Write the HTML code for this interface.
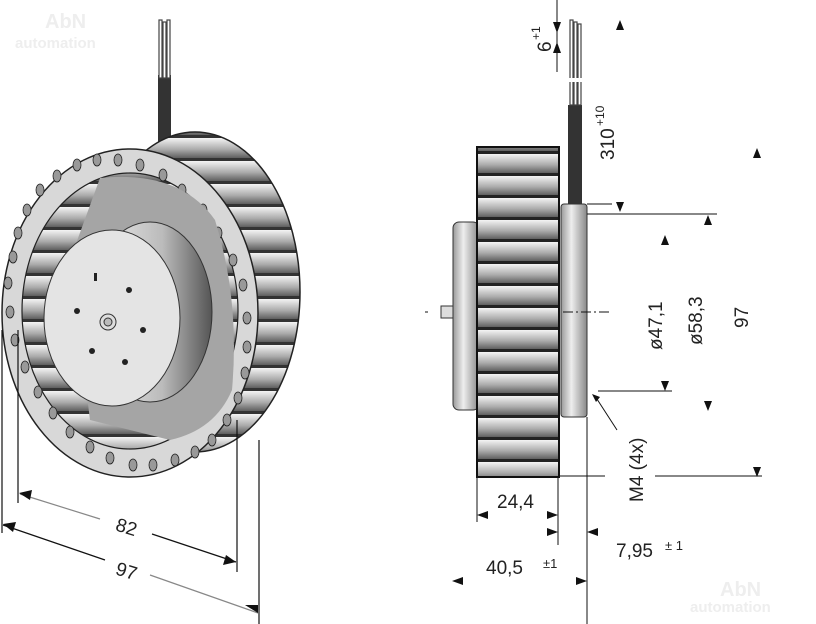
<!DOCTYPE html>
<html><head><meta charset="utf-8"><style>
html,body{margin:0;padding:0;background:#fff;}
svg{display:block;}
text{font-family:"Liberation Sans",sans-serif;fill:#222;}
</style></head><body>
<svg width="816" height="624" viewBox="0 0 816 624" xmlns="http://www.w3.org/2000/svg">
<defs>
<linearGradient id="blade" x1="0" y1="0" x2="0" y2="1">
<stop offset="0" stop-color="#f4f4f4"/><stop offset="0.5" stop-color="#aaa"/><stop offset="1" stop-color="#444"/>
</linearGradient>
<linearGradient id="hub" x1="0" y1="0" x2="1" y2="0">
<stop offset="0" stop-color="#f0f0f0"/><stop offset="0.6" stop-color="#bbb"/><stop offset="1" stop-color="#555"/>
</linearGradient>
<linearGradient id="vert" x1="0" y1="0" x2="1" y2="0">
<stop offset="0" stop-color="#999"/><stop offset="0.4" stop-color="#eee"/><stop offset="1" stop-color="#888"/>
</linearGradient>
<pattern id="blades" width="20" height="23" patternUnits="userSpaceOnUse">
<rect width="20" height="23" fill="url(#blade)"/><rect y="20" width="20" height="3" fill="#333"/>
</pattern>
<pattern id="rblades" width="81" height="22" patternUnits="userSpaceOnUse">
<rect width="81" height="22" fill="url(#blade)"/><rect y="19" width="81" height="3" fill="#222"/>
</pattern>
</defs>

<text x="45" y="28" font-size="20" font-weight="bold" style="fill:#eee">AbN</text>
<text x="15" y="48" font-size="15" font-weight="bold" style="fill:#eee">automation</text>
<text x="720" y="596" font-size="20" font-weight="bold" style="fill:#eee">AbN</text>
<text x="690" y="612" font-size="15" font-weight="bold" style="fill:#eee">automation</text>

<!-- LEFT FAN -->
<rect x="158" y="75" width="13" height="70" fill="#333"/>
<g stroke="#444" stroke-width="1.2" fill="#fff">
<rect x="159" y="20" width="3" height="58"/><rect x="163" y="22" width="3" height="56"/><rect x="167" y="20" width="3" height="58"/>
</g>
<ellipse cx="195" cy="292" rx="105" ry="160" fill="url(#blades)" stroke="#222" stroke-width="1.5"/>
<ellipse cx="130" cy="313" rx="128" ry="164" fill="#d8d8d8" stroke="#222" stroke-width="1.5"/>
<ellipse cx="130" cy="311" rx="108" ry="138" fill="url(#blades)" stroke="#222" stroke-width="1.2"/>
<g fill="#999" stroke="#222" stroke-width="0.8">
<ellipse cx="27" cy="210" rx="4" ry="6"/><ellipse cx="40" cy="190" rx="4" ry="6"/><ellipse cx="57" cy="176" rx="4" ry="6"/><ellipse cx="77" cy="165" rx="4" ry="6"/><ellipse cx="97" cy="160" rx="4" ry="6"/><ellipse cx="118" cy="160" rx="4" ry="6"/><ellipse cx="140" cy="165" rx="4" ry="6"/><ellipse cx="163" cy="175" rx="4" ry="6"/><ellipse cx="182" cy="190" rx="4" ry="6"/><ellipse cx="203" cy="210" rx="4" ry="6"/><ellipse cx="218" cy="233" rx="4" ry="6"/><ellipse cx="233" cy="260" rx="4" ry="6"/><ellipse cx="243" cy="285" rx="4" ry="6"/><ellipse cx="247" cy="318" rx="4" ry="6"/><ellipse cx="247" cy="347" rx="4" ry="6"/><ellipse cx="245" cy="373" rx="4" ry="6"/><ellipse cx="238" cy="398" rx="4" ry="6"/><ellipse cx="227" cy="420" rx="4" ry="6"/><ellipse cx="212" cy="440" rx="4" ry="6"/><ellipse cx="195" cy="452" rx="4" ry="6"/><ellipse cx="175" cy="460" rx="4" ry="6"/><ellipse cx="153" cy="465" rx="4" ry="6"/><ellipse cx="133" cy="465" rx="4" ry="6"/><ellipse cx="110" cy="458" rx="4" ry="6"/><ellipse cx="90" cy="447" rx="4" ry="6"/><ellipse cx="70" cy="432" rx="4" ry="6"/><ellipse cx="53" cy="413" rx="4" ry="6"/><ellipse cx="38" cy="392" rx="4" ry="6"/><ellipse cx="25" cy="367" rx="4" ry="6"/><ellipse cx="15" cy="340" rx="4" ry="6"/><ellipse cx="10" cy="312" rx="4" ry="6"/><ellipse cx="8" cy="283" rx="4" ry="6"/><ellipse cx="13" cy="257" rx="4" ry="6"/><ellipse cx="18" cy="233" rx="4" ry="6"/>
</g>
<!-- cone -->
<path d="M100 178 Q180 170 215 220 Q240 300 232 390 Q215 430 170 440 L90 420 L70 260 Z" fill="#a5a5a5"/>
<ellipse cx="150" cy="312" rx="62" ry="90" fill="url(#hub)" stroke="#333"/>
<ellipse cx="112" cy="318" rx="68" ry="88" fill="#e4e4e4" stroke="#333"/>
<circle cx="108" cy="322" r="8" fill="#ddd" stroke="#333"/><circle cx="108" cy="322" r="4" fill="#bbb" stroke="#333"/>
<g fill="#222"><circle cx="129" cy="290" r="3"/><circle cx="77" cy="311" r="3"/><circle cx="143" cy="330" r="3"/><circle cx="92" cy="351" r="3"/><circle cx="125" cy="362" r="3"/><rect x="94" y="273" width="3" height="8"/></g>

<!-- left dims -->
<g stroke="#111" stroke-width="1.2" fill="none">
<line x1="18" y1="330" x2="18" y2="503"/><line x1="2" y1="330" x2="2" y2="533"/>
<line x1="237" y1="420" x2="237" y2="572"/><line x1="259" y1="440" x2="259" y2="624"/>
<line x1="20" y1="494" x2="100" y2="519" stroke="#888"/><line x1="152" y1="534" x2="236" y2="562"/>
<line x1="3" y1="525" x2="105" y2="560"/><line x1="150" y1="575" x2="258" y2="613" stroke="#888"/>
</g>
<g fill="#111">
<polygon points="19,493 32,490 30,500"/><polygon points="236,562 223,565 226,555"/>
<polygon points="3,524 16,522 13,532"/><polygon points="258,613 245,605 258,605"/>
</g>
<text x="116" y="534" font-size="19" transform="rotate(17 128 527)">82</text>
<text x="116" y="578" font-size="19" transform="rotate(17 128 571)">97</text>

<!-- RIGHT VIEW -->
<rect x="568" y="105" width="14" height="102" fill="#333"/>
<g stroke="#444" stroke-width="1.2" fill="#fff">
<rect x="570" y="20" width="3" height="85"/><rect x="574" y="22" width="3" height="83"/><rect x="578" y="24" width="3" height="81"/>
</g>
<rect x="566" y="78" width="18" height="4" fill="#fff"/>
<rect x="453" y="222" width="26" height="188" rx="6" fill="url(#vert)" stroke="#333"/>
<rect x="441" y="306" width="12" height="12" fill="#ddd" stroke="#333"/>
<rect x="477" y="147" width="82" height="330" fill="url(#rblades)" stroke="#111" stroke-width="2"/>
<rect x="561" y="204" width="26" height="213" rx="3" fill="url(#vert)" stroke="#333"/>

<g stroke="#111" stroke-width="1" fill="none">
<line x1="557" y1="0" x2="557" y2="72"/>
<line x1="587" y1="204" x2="612" y2="204"/><line x1="587" y1="214" x2="717" y2="214"/>
<line x1="563" y1="312" x2="612" y2="312" stroke-dasharray="10,3,2,3"/>
<line x1="425" y1="312" x2="428" y2="312"/>
<line x1="598" y1="391" x2="672" y2="391"/>
<line x1="559" y1="476" x2="605" y2="476"/><line x1="655" y1="476" x2="762" y2="476"/>
<line x1="477" y1="476" x2="477" y2="522"/><line x1="558" y1="476" x2="558" y2="545"/><line x1="587" y1="417" x2="587" y2="624"/>
<line x1="595" y1="396" x2="617" y2="430"/>
</g>
<g fill="#111">
<polygon points="553,22 561,22 557,33"/><polygon points="553,53 561,53 557,42"/>
<polygon points="616,30 624,30 620,20"/>
<polygon points="753,158 761,158 757,148"/>
<polygon points="616,202 624,202 620,212"/>
<polygon points="704,225 712,225 708,215"/>
<polygon points="661,245 669,245 665,235"/>
<polygon points="661,381 669,381 665,391"/>
<polygon points="704,401 712,401 708,411"/>
<polygon points="753,467 761,467 757,477"/>
<polygon points="477,515 488,511 488,519"/><polygon points="558,515 547,511 547,519"/>
<polygon points="558,532 547,528 547,536"/><polygon points="587,532 598,528 598,536"/>
<polygon points="452,581 463,577 463,585"/><polygon points="587,581 576,577 576,585"/>
<polygon points="592,394 600,397 596,402"/>
</g>

<text font-size="19" transform="translate(551 52) rotate(-90)">6</text>
<text font-size="12" transform="translate(540 40) rotate(-90)">+1</text>
<text font-size="19" transform="translate(614 160) rotate(-90)">310</text>
<text font-size="12" transform="translate(604 126) rotate(-90)">+10</text>
<text font-size="19" transform="translate(662 350) rotate(-90)">ø47,1</text>
<text font-size="19" transform="translate(702 345) rotate(-90)">ø58,3</text>
<text font-size="19" transform="translate(748 328) rotate(-90)">97</text>
<text font-size="19" transform="translate(643 502) rotate(-90)">M4 (4x)</text>
<text x="497" y="508" font-size="19">24,4</text>
<text x="616" y="557" font-size="19">7,95</text>
<text x="665" y="550" font-size="13">± 1</text>
<text x="486" y="574" font-size="19">40,5</text>
<text x="543" y="568" font-size="13">±1</text>
</svg>
</body></html>
